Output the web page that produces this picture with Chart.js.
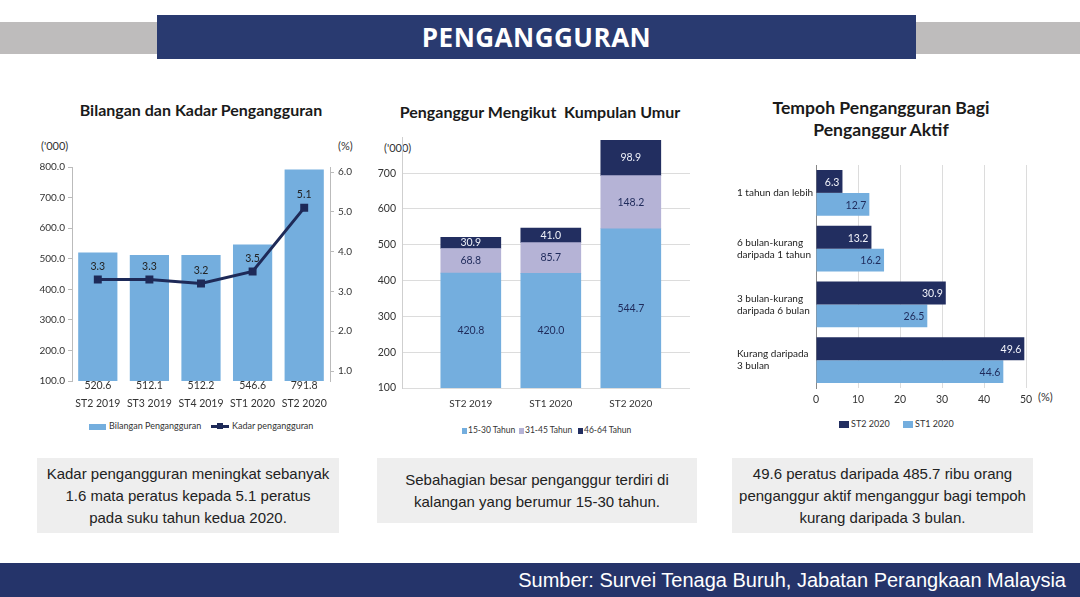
<!DOCTYPE html>
<html>
<head>
<meta charset="utf-8">
<script src="https://cdn.jsdelivr.net/npm/chart.js@4.4.0/dist/chart.umd.min.js"></script>
<style>
  html, body { margin: 0; padding: 0; background: #fff; }
  body { width: 1080px; height: 597px; position: relative; overflow: hidden; font-family: Lato, sans-serif; color: #222; }
  .abs { position: absolute; }
  .side { background: #bebcbc; top: 22px; height: 32px; }
  .banner { left: 157px; width: 759px; top: 15px; height: 44px; background: #293a70; color: #fff;
    font-family: "Open Sans", sans-serif; font-weight: 700; font-size: 26px; line-height: 44px; text-align: center; letter-spacing: 0.5px; }
  .ctitle { font-weight: 700; font-size: 16px; line-height: 22px; text-align: center; color: #1a1a1a; white-space: nowrap; }
  .unit { font-size: 11px; color: #333; line-height: 14px; }
  .box { background: #eeeeee; display: flex; align-items: center; justify-content: center; text-align: center;
    font-family: "Liberation Sans", Arial, sans-serif; font-size: 15px; line-height: 22px; color: #222; }
  .footer { left: 0; top: 563px; width: 1080px; height: 34px; background: #25346a; color: #fff;
    font-family: "Liberation Sans", Arial, sans-serif; font-size: 20px; line-height: 34px; text-align: right; box-sizing: border-box; padding-right: 14px; }
  .leg { font-size: 9px; color: #333; line-height: 12px; white-space: nowrap; }
  .sw { display: inline-block; vertical-align: middle; margin-right: 3px; }
  .chartbox { position: absolute; }
</style>
</head>
<body>
<div class="abs side" style="left:0;width:157px"></div>
<div class="abs side" style="left:916px;width:164px"></div>
<div class="abs banner">PENGANGGURAN</div>

<div class="abs ctitle" style="left:51px;width:300px;top:99px">Bilangan dan Kadar Pengangguran</div>
<div class="abs ctitle" style="left:390px;width:300px;top:101px">Penganggur Mengikut&nbsp; Kumpulan Umur</div>
<div class="abs ctitle" style="left:731px;width:300px;top:97px;font-size:17.6px">Tempoh Pengangguran Bagi<br>Penganggur Aktif</div>

<div class="abs unit" style="left:41px;top:139px">('000)</div>
<div class="abs unit" style="left:338px;top:139px">(%)</div>
<div class="abs unit" style="left:384px;top:141px">('000)</div>
<div class="abs unit" style="left:1038px;top:390px">(%)</div>

<div class="chartbox" style="left:30px;top:140px;width:330px;height:270px"><canvas id="countChart"></canvas></div>
<div class="chartbox" style="left:370px;top:125px;width:330px;height:290px"><canvas id="ageChart"></canvas></div>
<div class="chartbox" style="left:737px;top:150px;width:323px;height:260px"><canvas id="durationChart"></canvas></div>

<div class="abs leg" style="left:89px;top:420px"><span class="sw" style="width:17px;height:6px;background:#74aede"></span>Bilangan Pengangguran</div>
<div class="abs leg" style="left:211px;top:420px"><span class="sw" style="width:18px;height:3px;background:#1e2a58;position:relative"><span style="position:absolute;left:6px;top:-2px;width:6px;height:6px;background:#1e2a58"></span></span>Kadar pengangguran</div>

<div class="abs leg" style="left:462px;top:424px;font-size:8.5px"><span class="sw" style="width:5px;height:6px;background:#74aede;margin-right:1px"></span>15-30 Tahun</div>
<div class="abs leg" style="left:519px;top:424px;font-size:8.5px"><span class="sw" style="width:5px;height:6px;background:#b5b3d6;margin-right:1px"></span>31-45 Tahun</div>
<div class="abs leg" style="left:578px;top:424px;font-size:8.5px"><span class="sw" style="width:5px;height:6px;background:#222e60;margin-right:1px"></span>46-64 Tahun</div>

<div class="abs leg" style="left:839px;top:418px"><span class="sw" style="width:10px;height:7px;background:#222e60;margin-right:2px"></span>ST2 2020</div>
<div class="abs leg" style="left:903px;top:418px"><span class="sw" style="width:10px;height:7px;background:#74aede;margin-right:2px"></span>ST1 2020</div>

<div class="abs box" style="left:37px;top:458px;width:302px;height:75px">Kadar pengangguran meningkat sebanyak<br>1.6 mata peratus kepada 5.1 peratus<br>pada suku tahun kedua 2020.</div>
<div class="abs box" style="left:377px;top:458px;width:320px;height:65px">Sebahagian besar penganggur terdiri di<br>kalangan yang berumur 15-30 tahun.</div>
<div class="abs box" style="left:732px;top:458px;width:301px;height:75px">49.6 peratus daripada 485.7 ribu orang<br>penganggur aktif menganggur bagi tempoh<br>kurang daripada 3 bulan.</div>

<div class="abs footer">Sumber: Survei Tenaga Buruh, Jabatan Perangkaan Malaysia</div>

<script>
// Bilangan dan Kadar Pengangguran
const quarters = ['ST2 2019', 'ST3 2019', 'ST4 2019', 'ST1 2020', 'ST2 2020'];
const unemployed = [520.6, 512.1, 512.2, 546.6, 791.8];
const unemploymentRate = [3.3, 3.3, 3.2, 3.5, 5.1];
const countTicks = [100, 200, 300, 400, 500, 600, 700, 800];
const rateTicks = [1, 2, 3, 4, 5, 6];

// Penganggur Mengikut Kumpulan Umur
const ageQuarters = ['ST2 2019', 'ST1 2020', 'ST2 2020'];
const age15to30 = [420.8, 420.0, 544.7];
const age31to45 = [68.8, 85.7, 148.2];
const age46to64 = [30.9, 41.0, 98.9];
const ageTicks = [100, 200, 300, 400, 500, 600, 700];

// Tempoh Pengangguran Bagi Penganggur Aktif
const durations = [
  ['1 tahun dan lebih'],
  ['6 bulan-kurang', 'daripada 1 tahun'],
  ['3 bulan-kurang', 'daripada 6 bulan'],
  ['Kurang daripada', '3 bulan']
];
const durationST2 = [6.3, 13.2, 30.9, 49.6];
const durationST1 = [12.7, 16.2, 26.5, 44.6];
const pctTicks = [0, 10, 20, 30, 40, 50];

const lightBlue = '#74aede';
const lavender = '#b5b3d6';
const navy = '#222e60';
const lineNavy = '#1e2a58';

Chart.defaults.font.family = 'Lato, sans-serif';
Chart.defaults.color = '#333';
Chart.defaults.animation = false;
Chart.defaults.plugins.legend.display = false;
Chart.defaults.plugins.tooltip.enabled = false;

const fixed = (list) => (axis) => { axis.ticks = list.map(v => ({ value: v })); };

// labels under the bars and above the line points
const countLabels = {
  id: 'countLabels',
  afterDatasetsDraw(chart) {
    const ctx = chart.ctx;
    ctx.save();
    ctx.font = '10.5px Lato, sans-serif';
    ctx.textAlign = 'center';
    ctx.textBaseline = 'middle';
    ctx.fillStyle = '#333';
    chart.getDatasetMeta(1).data.forEach((bar, i) => {
      ctx.fillText(unemployed[i].toFixed(1), bar.x, chart.chartArea.bottom + 5);
    });
    ctx.fillStyle = '#222';
    chart.getDatasetMeta(0).data.forEach((pt, i) => {
      ctx.fillText(unemploymentRate[i].toFixed(1), pt.x, pt.y - 13);
    });
    ctx.restore();
  }
};

new Chart(document.getElementById('countChart'), {
  data: {
    labels: quarters,
    datasets: [
      {
        type: 'line',
        label: 'Kadar pengangguran',
        data: unemploymentRate,
        yAxisID: 'y1',
        borderColor: lineNavy,
        backgroundColor: lineNavy,
        borderWidth: 3,
        pointStyle: 'rect',
        pointRadius: 3.5,
        pointBackgroundColor: lineNavy,
        tension: 0,
        order: 0
      },
      {
        type: 'bar',
        label: 'Bilangan Pengangguran',
        data: unemployed,
        yAxisID: 'y',
        backgroundColor: lightBlue,
        categoryPercentage: 1,
        barPercentage: 0.76,
        order: 1
      }
    ]
  },
  options: {
    responsive: true,
    maintainAspectRatio: false,
    layout: { padding: { top: 27, left: 0, right: 0, bottom: 0 } },
    scales: {
      x: {
        grid: { display: false, drawTicks: false },
        border: { display: false },
        ticks: { padding: 16, font: { size: 10.5 }, color: '#333', maxRotation: 0 },
        afterFit(scale) { scale.height = 29; }
      },
      y: {
        position: 'left',
        min: 100,
        max: 800,
        afterBuildTicks: fixed(countTicks),
        ticks: { callback: v => v.toFixed(1), font: { size: 10 }, padding: 3 },
        grid: { drawOnChartArea: false, tickLength: 4, color: '#bbb' },
        border: { color: '#bbb' },
        afterFit(scale) { scale.width = 42; }
      },
      y1: {
        position: 'right',
        min: 0.749,
        max: 6.126,
        afterBuildTicks: fixed(rateTicks),
        ticks: { callback: v => v.toFixed(1), font: { size: 10 }, padding: 4 },
        grid: { drawOnChartArea: false, tickLength: 4, color: '#bbb' },
        border: { color: '#bbb' },
        afterFit(scale) { scale.width = 30; }
      }
    }
  },
  plugins: [countLabels]
});

// values in the middle of each stacked segment
const ageLabels = {
  id: 'ageLabels',
  afterDatasetsDraw(chart) {
    const ctx = chart.ctx;
    const area = chart.chartArea;
    ctx.save();
    ctx.font = '10.5px Lato, sans-serif';
    ctx.textAlign = 'center';
    ctx.textBaseline = 'middle';
    chart.data.datasets.forEach((ds, d) => {
      ctx.fillStyle = d === 2 ? '#eef0f8' : '#1f2b5b';
      chart.getDatasetMeta(d).data.forEach((bar, i) => {
        const bottom = Math.min(bar.base, area.bottom);
        ctx.fillText(ds.data[i].y.toFixed(1), bar.x, (bar.y + bottom) / 2);
      });
    });
    ctx.restore();
  }
};

const ageSeries = (values) => values.map((v, i) => ({ x: i, y: v }));

new Chart(document.getElementById('ageChart'), {
  type: 'bar',
  data: {
    datasets: [
      { label: '15-30 Tahun', data: ageSeries(age15to30), backgroundColor: lightBlue },
      { label: '31-45 Tahun', data: ageSeries(age31to45), backgroundColor: lavender },
      { label: '46-64 Tahun', data: ageSeries(age46to64), backgroundColor: navy }
    ]
  },
  options: {
    responsive: true,
    maintainAspectRatio: false,
    layout: { padding: { top: 10, left: 0, right: 10, bottom: 0 } },
    datasets: { bar: { barThickness: 60 } },
    scales: {
      x: {
        type: 'linear',
        stacked: true,
        offset: false,
        min: -0.86,
        max: 2.74,
        afterBuildTicks: fixed([0, 1, 2]),
        ticks: { callback: v => ageQuarters[v], font: { size: 10 }, padding: 10, maxRotation: 0, autoSkip: false },
        grid: { display: false, drawTicks: false, offset: false },
        border: { display: false },
        afterFit(scale) { scale.height = 27; }
      },
      y: {
        stacked: true,
        min: 100,
        max: 800,
        afterBuildTicks: fixed(ageTicks),
        ticks: { font: { size: 10.5 }, padding: 6 },
        grid: { color: '#dcdcdc', drawTicks: false },
        border: { color: '#cfcfcf' },
        afterFit(scale) { scale.width = 32; }
      }
    }
  },
  plugins: [ageLabels]
});

// values at the end of each horizontal bar
const durationLabels = {
  id: 'durationLabels',
  afterDatasetsDraw(chart) {
    const ctx = chart.ctx;
    ctx.save();
    ctx.font = '10.5px Lato, sans-serif';
    ctx.textAlign = 'right';
    ctx.textBaseline = 'middle';
    chart.data.datasets.forEach((ds, d) => {
      ctx.fillStyle = d === 0 ? '#f2f3fa' : '#1f2b5b';
      chart.getDatasetMeta(d).data.forEach((bar, i) => {
        ctx.fillText(ds.data[i].toFixed(1), bar.x - 3, bar.y + 1);
      });
    });
    ctx.restore();
  }
};

new Chart(document.getElementById('durationChart'), {
  type: 'bar',
  data: {
    labels: durations,
    datasets: [
      { label: 'ST2 2020', data: durationST2, backgroundColor: navy, categoryPercentage: 0.82, barPercentage: 1 },
      { label: 'ST1 2020', data: durationST1, backgroundColor: lightBlue, categoryPercentage: 0.82, barPercentage: 1 }
    ]
  },
  options: {
    indexAxis: 'y',
    responsive: true,
    maintainAspectRatio: false,
    layout: { padding: { top: 13, left: 0, right: 34, bottom: 0 } },
    scales: {
      x: {
        min: 0,
        max: 50,
        afterBuildTicks: fixed(pctTicks),
        ticks: { font: { size: 10.5 }, padding: 5 },
        grid: { color: '#dcdcdc', drawTicks: false },
        border: { display: false },
        afterFit(scale) { scale.height = 22; }
      },
      y: {
        grid: { display: false, drawTicks: false },
        border: { color: '#888' },
        ticks: { crossAlign: 'far', font: { size: 10 }, color: '#222' },
        afterFit(scale) { scale.width = 79; }
      }
    }
  },
  plugins: [durationLabels]
});
</script>
</body>
</html>
